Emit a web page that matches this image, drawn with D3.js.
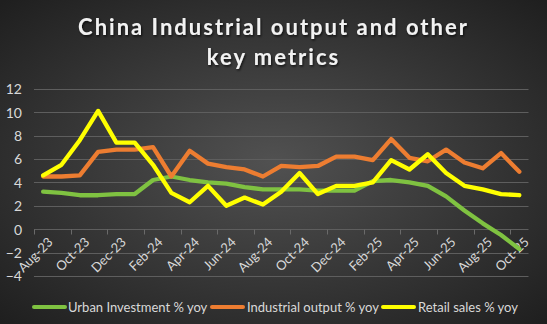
<!DOCTYPE html>
<html>
<head>
<meta charset="utf-8">
<script src="https://cdn.jsdelivr.net/npm/d3@7"></script>
<style>
  html, body { margin: 0; padding: 0; background: #2b2b2b; }
  svg { display: block; }
</style>
</head>
<body>
<script>
// Monthly series, Aug-23 .. Oct-25 (% year on year)
const months = ["Aug-23","Sep-23","Oct-23","Nov-23","Dec-23","Jan-24","Feb-24","Mar-24","Apr-24","May-24","Jun-24","Jul-24",
  "Aug-24","Sep-24","Oct-24","Nov-24","Dec-24","Jan-25","Feb-25","Mar-25","Apr-25","May-25","Jun-25","Jul-25","Aug-25","Sep-25","Oct-25"];
const urbanInvestment = [3.2,3.1,2.9,2.9,3.0,3.0,4.2,4.5,4.2,4.0,3.9,3.6,3.4,3.4,3.4,3.3,3.3,3.3,4.1,4.2,4.0,3.7,2.8,1.6,0.5,-0.5,-1.7];
const industrialOutput = [4.5,4.5,4.6,6.6,6.8,6.8,7.0,4.5,6.7,5.6,5.3,5.1,4.5,5.4,5.3,5.4,6.2,6.2,5.9,7.7,6.1,5.8,6.8,5.7,5.2,6.5,4.9];
const retailSales = [4.6,5.5,7.6,10.1,7.4,7.4,5.5,3.1,2.3,3.7,2.0,2.7,2.1,3.2,4.8,3.0,3.7,3.7,4.0,5.9,5.1,6.4,4.8,3.7,3.4,3.0,2.9];
const yTicks = [-4,-2,0,2,4,6,8,10,12];
const seriesNames = ["Urban Investment % yoy","Industrial output % yoy","Retail sales % yoy"];
const seriesColors = ["#7fc241","#ed7d31","#ffff00"];

const W = 547, H = 324;
const svg = d3.select("body").append("svg").attr("width", W).attr("height", H);
const defs = svg.append("defs");

const bg = defs.append("radialGradient").attr("id","bg").attr("cx","50%").attr("cy","50%").attr("r","70%");
bg.append("stop").attr("offset","0%").attr("stop-color","#515151");
bg.append("stop").attr("offset","100%").attr("stop-color","#1f1f1f");
svg.append("rect").attr("width",W).attr("height",H).attr("fill","url(#bg)");

const shadow = defs.append("filter").attr("id","shadow").attr("x","-10%").attr("y","-30%").attr("width","120%").attr("height","160%");
shadow.append("feDropShadow").attr("dx",1).attr("dy",1.5).attr("stdDeviation",1.2).attr("flood-color","#000").attr("flood-opacity",0.7);

// Title
const title = svg.append("text").attr("text-anchor","middle").attr("fill","#f2f2f2")
  .attr("font-family","Lato, 'Open Sans', sans-serif").attr("font-weight","bold").attr("font-size",22)
  .attr("letter-spacing",2).attr("filter","url(#shadow)");
title.append("tspan").attr("x",W/2).attr("y",35).text("China Industrial output and other");
title.append("tspan").attr("x",W/2).attr("y",65).text("key metrics");

// Scales
const x = d3.scaleBand().domain(months).range([34, 528.5]);
const y = d3.scaleLinear().domain([-4, 12]).range([276, 88.7]);
const cx = m => x(m) + x.bandwidth() / 2;

const labelColor = "#d9d9d9";
const font = "Lato, 'Open Sans', sans-serif";

// Horizontal gridlines
svg.append("g").selectAll("line").data(yTicks).join("line")
  .attr("x1",34).attr("x2",528.5)
  .attr("y1",d => Math.round(y(d)) + 0.5).attr("y2",d => Math.round(y(d)) + 0.5)
  .attr("stroke","#5e5e5e").attr("stroke-width",1);

// Y axis labels
const yAxis = d3.axisLeft(y).tickValues(yTicks).tickSize(0).tickPadding(0).tickFormat(d3.format("d"));
const gy = svg.append("g").attr("transform","translate(22,0)").call(yAxis);
gy.select(".domain").remove();
gy.selectAll("text").attr("fill",labelColor).attr("font-size",14).attr("font-family",font).attr("dy","0.35em");

// Category axis on the zero line: tick marks every second month
const zeroY = Math.round(y(0)) + 0.5;
const tickIdx = d3.range(0, months.length, 2);
svg.append("g").selectAll("line").data(tickIdx).join("line")
  .attr("x1",i => Math.round(x(months[i])) + 0.5).attr("x2",i => Math.round(x(months[i])) + 0.5)
  .attr("y1",zeroY).attr("y2",zeroY + 5)
  .attr("stroke","#6a6a6a");

svg.append("g").selectAll("text").data(tickIdx).join("text")
  .attr("transform",i => `translate(${cx(months[i]) + 4},${zeroY + 7}) rotate(-45)`)
  .attr("text-anchor","end").attr("dy","0.7em")
  .attr("fill",labelColor).attr("font-size",13).attr("font-family",font)
  .text(i => months[i]);

// Lines
const line = d3.line().x((d,i) => cx(months[i])).y(d => y(d));
const allSeries = [urbanInvestment, industrialOutput, retailSales];
svg.append("g").selectAll("path").data(allSeries).join("path")
  .attr("d", line)
  .attr("fill","none")
  .attr("stroke",(d,i) => seriesColors[i])
  .attr("stroke-width",4.3)
  .attr("stroke-linejoin","round")
  .attr("stroke-linecap","round");

// Legend
const legendItems = [
  {x: 34, textX: 68},
  {x: 212, textX: 247},
  {x: 383, textX: 418}
];
const lg = svg.append("g");
legendItems.forEach((p, i) => {
  lg.append("line").attr("x1",p.x).attr("x2",p.x + 31).attr("y1",307).attr("y2",307)
    .attr("stroke",seriesColors[i]).attr("stroke-width",4).attr("stroke-linecap","round");
  lg.append("text").attr("x",p.textX).attr("y",307).attr("dy","0.35em")
    .attr("fill",labelColor).attr("font-size",13).attr("font-family",font)
    .text(seriesNames[i]);
});
</script>
</body>
</html>
